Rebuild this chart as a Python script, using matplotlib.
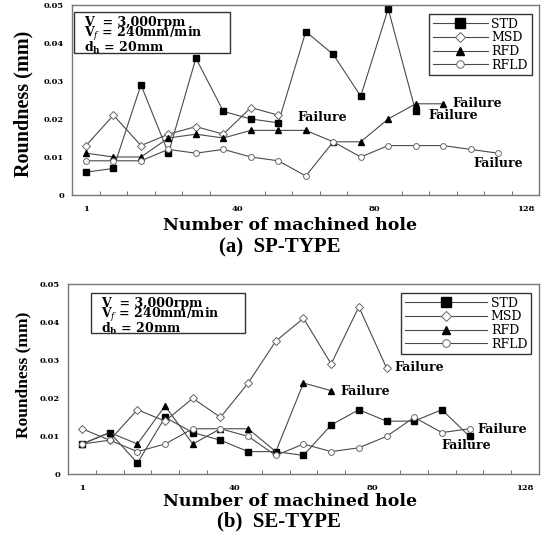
import numpy as np
import matplotlib.pyplot as plt
from matplotlib.patches import Rectangle

plt.rcParams['font.family'] = 'DejaVu Serif'
plt.rcParams['mathtext.fontset'] = 'dejavuserif'

# series names and axis labels
names = ['STD', 'MSD', 'RFD', 'RFLD']
xtick_pos = [0, 5.5, 10.5, 16]
xtick_labels = ['1', '40', '80', '128']
yticks = [0, 0.01, 0.02, 0.03, 0.04, 0.05]
ytick_labels = ['0', '0.01', '0.02', '0.03', '0.04', '0.05']

# (a) SP-TYPE
std_a = [0.006, 0.007, 0.029, 0.011, 0.036, 0.022, 0.020, 0.019, 0.043, 0.037, 0.026, 0.049, 0.022]
msd_a = [0.013, 0.021, 0.013, 0.016, 0.018, 0.016, 0.023, 0.021]
rfd_a = [0.011, 0.010, 0.010, 0.015, 0.016, 0.015, 0.017, 0.017, 0.017, 0.014, 0.014, 0.020, 0.024, 0.024]
rfld_a = [0.009, 0.009, 0.009, 0.012, 0.011, 0.012, 0.010, 0.009, 0.005, 0.014, 0.010, 0.013, 0.013, 0.013,
          0.012, 0.011]

# (b) SE-TYPE
std_b = [0.008, 0.011, 0.003, 0.015, 0.011, 0.009, 0.006, 0.006, 0.005, 0.013, 0.017, 0.014, 0.014, 0.017, 0.010]
msd_b = [0.012, 0.009, 0.017, 0.014, 0.020, 0.015, 0.024, 0.035, 0.041, 0.029, 0.044, 0.028]
rfd_b = [0.008, 0.011, 0.008, 0.018, 0.008, 0.012, 0.012, 0.006, 0.024, 0.022]
rfld_b = [0.008, 0.009, 0.006, 0.008, 0.012, 0.012, 0.010, 0.005, 0.008, 0.006, 0.007, 0.010, 0.015, 0.011, 0.012]

cond_lines = ['V  = 3,000rpm', r'V$_{f}$ = 240mm/min', r'd$_{\mathbf{h}}$ = 20mm']

line_c = '#4a4a4a'
styles = {
    'STD': dict(marker='s', ms=5, mfc='black', mec='black'),
    'MSD': dict(marker='D', ms=3.6, mfc='white', mec='#666666', mew=0.7),
    'RFD': dict(marker='^', ms=4.5, mfc='black', mec='black'),
    'RFLD': dict(marker='o', ms=4.2, mfc='white', mec='#666666', mew=0.7),
}


def draw(ax, data, box, legend_hl, failures):
    for name, vals in zip(names, data):
        ax.plot(np.arange(len(vals)), vals, color=line_c, lw=0.8, label=name, **styles[name])
    ax.set_xlim(-0.5, 16.5)
    ax.set_ylim(0, 0.05)
    ax.set_xticks(xtick_pos)
    ax.set_xticklabels(xtick_labels, fontsize=6, fontweight='bold')
    ax.set_xticks(np.arange(0.5, 16, 1), minor=True)
    ax.tick_params(axis='x', which='major', length=0, pad=7)
    ax.tick_params(axis='x', which='minor', direction='in', length=3, color='#555555')
    ax.set_yticks(yticks)
    ax.set_yticklabels(ytick_labels, fontsize=6, fontweight='bold')
    ax.tick_params(axis='y', length=0, pad=6)
    for s in ax.spines.values():
        s.set_color('#777777')
        s.set_linewidth(1)

    # conditions box
    x0, y0, x1, y1 = box
    ax.add_patch(Rectangle((x0, y0), x1 - x0, y1 - y0, transform=ax.transAxes,
                           fill=False, ec='#333333', lw=1, zorder=5))
    ax.text(x0 + 0.022, y1 - 0.02, '\n'.join(cond_lines), transform=ax.transAxes,
            fontsize=9, fontweight='bold', va='top', ha='left', linespacing=0.72)

    leg = ax.legend(loc='upper right', bbox_to_anchor=(0.997, 0.985), fontsize=9,
                    handlelength=legend_hl, handletextpad=0.3, labelspacing=0.05,
                    borderpad=0.3, fancybox=False, framealpha=1, markerscale=1.3)
    leg.get_frame().set_edgecolor('#333333')
    leg.get_frame().set_linewidth(1)

    for fx, fy in failures:
        ax.text(fx, fy, 'Failure', fontsize=9, fontweight='bold', ha='left', va='center')


fig = plt.figure(figsize=(5.48, 5.43), dpi=100)
ax1 = fig.add_axes([0.1319, 0.6409, 0.8522, 0.3499])
ax2 = fig.add_axes([0.1245, 0.1262, 0.8586, 0.3508])

draw(ax1, [std_a, msd_a, rfd_a, rfld_a], (0.004, 0.747, 0.338, 0.963), 4.4,
     [(7.7, 0.0205), (12.45, 0.021), (13.35, 0.0242), (14.1, 0.0084)])
draw(ax2, [std_b, msd_b, rfd_b, rfld_b], (0.048, 0.743, 0.376, 0.953), 6.6,
     [(11.3, 0.028), (9.33, 0.0219), (14.3, 0.0119), (13.0, 0.0077)])

for ax, xc, yc in [(ax1, 0.467, -0.118), (ax2, 0.472, -0.097)]:
    ax.set_xlabel('Number of machined hole', fontsize=12.5, fontweight='bold')
    ax.xaxis.set_label_coords(xc, yc)

fig.text(23 / 548, 1 - 104 / 543, 'Roundness (mm)', rotation=90, ha='center', va='center',
         fontsize=14.5, fontweight='bold', family='Liberation Serif')
fig.text(23 / 548, 1 - 375 / 543, 'Roundness (mm)', rotation=90, ha='center', va='center',
         fontsize=12.5, fontweight='bold', family='Liberation Serif')
fig.text(280 / 548, 1 - 247 / 543, '(a)  SP-TYPE', ha='center', va='center',
         fontsize=15, fontweight='bold', family='Liberation Serif')
fig.text(279 / 548, 1 - 521 / 543, '(b)  SE-TYPE', ha='center', va='center',
         fontsize=15, fontweight='bold', family='Liberation Serif')

fig.savefig('out.png', dpi=100)
